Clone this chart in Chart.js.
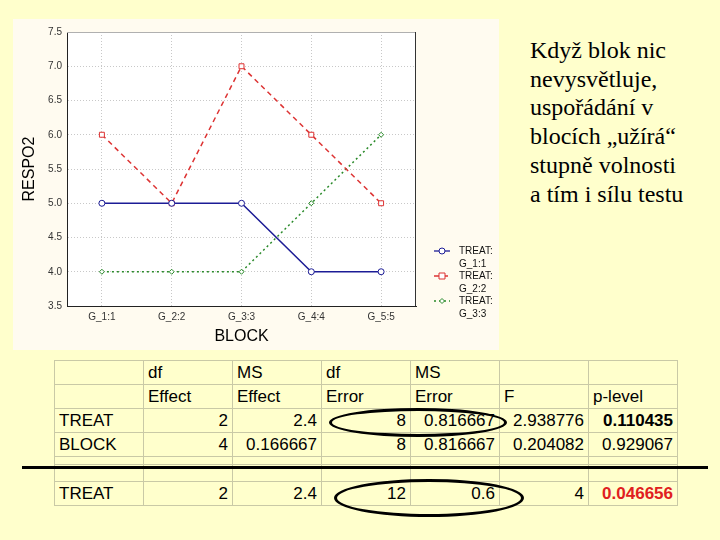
<!DOCTYPE html>
<html>
<head>
<meta charset="utf-8">
<script src="https://cdn.jsdelivr.net/npm/chart.js@4/dist/chart.umd.min.js"></script>
<style>
    body { margin: 0; width: 720px; height: 540px; background: #FFFFCC; position: relative; overflow: hidden; font-family: "Liberation Sans", Arial, sans-serif; }
    #panel { position: absolute; left: 13px; top: 19px; width: 486px; height: 331px; background: #FFFBF0; }
    #note { position: absolute; left: 530px; top: 36px; font-family: "Liberation Serif", "Times New Roman", serif; font-size: 24px; line-height: 28.7px; color: #000; white-space: nowrap; }
    #anova { position: absolute; left: 54px; top: 360px; border-collapse: collapse; font-size: 17px; color: #000; table-layout: fixed; }
    #anova td { border: 1px solid #c9c9a6; padding: 0 4px; width: 80px; height: 23px; white-space: nowrap; overflow: hidden; }
    #anova td.num { text-align: right; }
    #anova tr.thin td { height: 7px; }
    #anova tr.mid td { height: 16px; }
    .oval { position: absolute; border: 3px solid #000; border-radius: 50%; box-sizing: border-box; }
    #rule { position: absolute; left: 22px; top: 466px; width: 686px; height: 3px; background: #000; }
</style>
</head>
<body>
<div id="panel"><canvas id="chart" width="486" height="331"></canvas></div>
<div id="note">Když blok nic<br>nevysvětluje,<br>uspořádání v<br>blocích „užírá“<br>stupně volnosti<br>a tím i sílu testu</div>
<table id="anova"></table>
<div id="rule"></div>
<div class="oval" style="left:329px; top:408px; width:178px; height:29px;"></div>
<div class="oval" style="left:334px; top:479px; width:190px; height:38px;"></div>
<script>
// Chart data
const blocks = ["G_1:1", "G_2:2", "G_3:3", "G_4:4", "G_5:5"];
const treat1 = [5, 5, 5, 4, 4];
const treat2 = [6, 5, 7, 6, 5];
const treat3 = [4, 4, 4, 5, 6];
const seriesNames = [["TREAT:", "G_1:1"], ["TREAT:", "G_2:2"], ["TREAT:", "G_3:3"]];

// Table data
const headRow1 = ["", "df", "MS", "df", "MS", "", ""];
const headRow2 = ["", "Effect", "Effect", "Error", "Error", "F", "p-level"];
const rowTreat = ["TREAT", "2", "2.4", "8", "0.816667", "2.938776", "0.110435"];
const rowBlock = ["BLOCK", "4", "0.166667", "8", "0.816667", "0.204082", "0.929067"];
const rowTreat2 = ["TREAT", "2", "2.4", "12", "0.6", "4", "0.046656"];

// Build the table
function addRow(cells, cls, numeric, lastStyle) {
    const tr = document.createElement('tr');
    if (cls) tr.className = cls;
    cells.forEach((c, i) => {
        const td = document.createElement('td');
        td.textContent = c;
        if (numeric && i > 0) td.className = 'num';
        if (lastStyle && i === cells.length - 1) td.style.cssText = lastStyle;
        tr.appendChild(td);
    });
    document.getElementById('anova').appendChild(tr);
}
addRow(headRow1);
addRow(headRow2);
addRow(rowTreat, '', true, 'font-weight:bold');
addRow(rowBlock, '', true);
addRow(["", "", "", "", "", "", ""], 'thin');
addRow(["", "", "", "", "", "", ""], 'mid');
addRow(rowTreat2, '', true, 'font-weight:bold;color:#e02020');

// Plot background + frame
const frame = {
    id: 'frame',
    beforeDraw(chart) {
        const {ctx, chartArea: a} = chart;
        ctx.save();
        ctx.fillStyle = '#ffffff';
        ctx.fillRect(a.left, a.top, a.right - a.left, a.bottom - a.top);
        ctx.restore();
    },
    afterDraw(chart) {
        const {ctx, chartArea: a} = chart;
        ctx.save();
        ctx.lineWidth = 1;
        ctx.strokeStyle = '#b0b0b0';
        ctx.beginPath();
        ctx.moveTo(a.left, a.top + 0.5);
        ctx.lineTo(a.right, a.top + 0.5);
        ctx.stroke();
        ctx.strokeStyle = '#333333';
        ctx.beginPath();
        ctx.moveTo(a.right - 0.5, a.top);
        ctx.lineTo(a.right - 0.5, a.bottom);
        ctx.stroke();
        ctx.restore();
    }
};

// Legend drawn on the right side of the panel
const sideLegend = {
    id: 'sideLegend',
    afterDraw(chart) {
        const ctx = chart.ctx;
        ctx.save();
        chart.data.datasets.forEach((ds, i) => {
            const y = 232 + i * 25;
            ctx.strokeStyle = ds.borderColor;
            ctx.lineWidth = 1.3;
            ctx.setLineDash(ds.borderDash || []);
            ctx.beginPath();
            ctx.moveTo(421, y);
            ctx.lineTo(437, y);
            ctx.stroke();
            ctx.setLineDash([]);
            ctx.fillStyle = '#ffffff';
            ctx.lineWidth = 1;
            ctx.beginPath();
            if (ds.pointStyle === 'circle') ctx.arc(429, y, 3, 0, Math.PI * 2);
            else if (ds.pointStyle === 'rect') ctx.rect(426, y - 3, 6, 6);
            else { ctx.moveTo(429, y - 2.5); ctx.lineTo(431.5, y); ctx.lineTo(429, y + 2.5); ctx.lineTo(426.5, y); ctx.closePath(); }
            ctx.fill();
            ctx.stroke();
            ctx.fillStyle = '#111';
            ctx.font = '10px "Liberation Sans", Arial, sans-serif';
            ctx.textBaseline = 'middle';
            ctx.fillText(ds.label[0], 446, y);
            ctx.fillText(ds.label[1], 446, y + 13);
        });
        ctx.restore();
    }
};

const tickFont = { family: '"Liberation Sans", Arial, sans-serif', size: 10 };
const gridStyle = { color: '#c8c8c8', lineWidth: 1, drawTicks: false };

new Chart(document.getElementById('chart').getContext('2d'), {
    type: 'line',
    data: {
        labels: blocks,
        datasets: [{
            label: seriesNames[0],
            data: treat1,
            borderColor: '#1c1c96',
            backgroundColor: '#ffffff',
            borderWidth: 1.5,
            pointStyle: 'circle',
            pointRadius: 3,
            pointBorderWidth: 1,
            tension: 0
        }, {
            label: seriesNames[1],
            data: treat2,
            borderColor: '#dd3333',
            backgroundColor: '#ffffff',
            borderWidth: 1.5,
            borderDash: [5, 4],
            pointStyle: 'rect',
            pointRadius: 3.5,
            pointBorderWidth: 1,
            tension: 0
        }, {
            label: seriesNames[2],
            data: treat3,
            borderColor: '#2a8a2a',
            backgroundColor: '#ffffff',
            borderWidth: 1.5,
            borderDash: [2, 3],
            pointStyle: 'rectRot',
            pointRadius: 2.5,
            pointBorderWidth: 1,
            tension: 0
        }]
    },
    options: {
        responsive: false,
        animation: false,
        layout: { padding: { top: 13, right: 83, left: 0, bottom: 0 } },
        plugins: {
            legend: { display: false },
            tooltip: { enabled: false }
        },
        scales: {
            x: {
                offset: true,
                grid: gridStyle,
                border: { display: true, color: '#222222', width: 1, dash: [1, 2] },
                ticks: { font: tickFont, color: '#333', padding: 5, maxRotation: 0 },
                title: {
                    display: true,
                    text: 'BLOCK',
                    color: '#000',
                    font: { family: '"Liberation Sans", Arial, sans-serif', size: 16 },
                    padding: { top: 0, bottom: 4 }
                },
                afterFit(scale) { scale.height = 44; }
            },
            y: {
                min: 3.5,
                max: 7.5,
                grid: gridStyle,
                border: { display: true, color: '#222222', width: 1, dash: [1, 2] },
                ticks: {
                    stepSize: 0.5,
                    font: tickFont,
                    color: '#333',
                    padding: 5,
                    callback: v => v.toFixed(1)
                },
                title: {
                    display: true,
                    text: 'RESPO2',
                    color: '#000',
                    font: { family: '"Liberation Sans", Arial, sans-serif', size: 16 },
                    padding: { top: 7, bottom: 0 }
                },
                afterFit(scale) { scale.width = 54; }
            }
        }
    },
    plugins: [frame, sideLegend]
});
</script>
</body>
</html>
